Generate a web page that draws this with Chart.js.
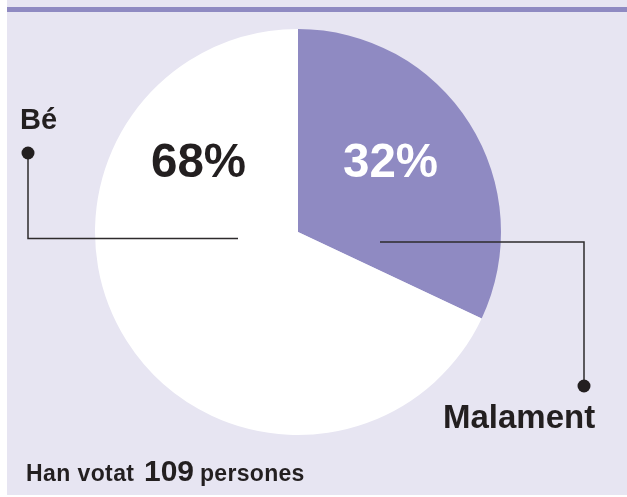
<!DOCTYPE html>
<html>
<head>
<meta charset="utf-8">
<script src="https://cdn.jsdelivr.net/npm/chart.js@4/dist/chart.umd.min.js"></script>
<style>
  html, body { margin: 0; padding: 0; background: #ffffff; }
  body { width: 627px; height: 497px; position: relative; overflow: hidden;
         font-family: "Liberation Sans", Arial, Helvetica, sans-serif; font-weight: bold; color: #231f20; }
  #card { position: absolute; left: 7px; top: 0; width: 620px; height: 495px; background: #e7e5f2; }
  #bar { position: absolute; left: 7px; top: 7px; width: 620px; height: 5px; background: #8f8ac2; }
  #wrap { position: absolute; left: 0; top: 0; width: 627px; height: 497px; }
  .t { position: absolute; white-space: nowrap; line-height: 1; }
</style>
</head>
<body>
<div id="card"></div>
<div id="bar"></div>
<div id="wrap"><canvas id="c" width="627" height="497"></canvas></div>
<div class="t" id="lblGood" style="left:20px; top:105px; font-size:29px;"></div>
<div class="t" id="pctGood" style="left:151px; top:137px; font-size:47.5px; color:#231f20;"></div>
<div class="t" id="pctBad" style="left:343px; top:137px; font-size:47.5px; color:#ffffff;"></div>
<div class="t" id="lblBad" style="left:443px; top:400px; font-size:33px;"></div>
<div class="t" id="f1" style="left:26px; top:462px; font-size:23px; letter-spacing:0.4px;"></div>
<div class="t" id="f2" style="left:144px; top:456px; font-size:30px;"></div>
<div class="t" id="f3" style="left:200px; top:462px; font-size:23px; letter-spacing:0.3px;"></div>
<script>
const categories = ["Malament", "Bé"];
const values = [32, 68];
const sliceColors = ["#8f8ac2", "#ffffff"];
const totalVotes = 109;
const footerWords = ["Han votat", "persones"];

document.getElementById("lblGood").textContent = categories[1];
document.getElementById("lblBad").textContent = categories[0];
document.getElementById("pctGood").textContent = values[1] + "%";
document.getElementById("pctBad").textContent = values[0] + "%";
document.getElementById("f1").textContent = footerWords[0];
document.getElementById("f2").textContent = String(totalVotes);
document.getElementById("f3").textContent = footerWords[1];

const leaders = {
  id: "leaders",
  afterDraw(chart) {
    const ctx = chart.ctx;
    ctx.save();
    ctx.strokeStyle = "#2e2b2c";
    ctx.lineWidth = 1.5;
    ctx.beginPath();
    ctx.moveTo(28, 153); ctx.lineTo(28, 238.5); ctx.lineTo(238, 238.5);
    ctx.moveTo(380, 242); ctx.lineTo(584, 242); ctx.lineTo(584, 386);
    ctx.stroke();
    ctx.fillStyle = "#231f20";
    ctx.beginPath(); ctx.arc(28, 153, 6.5, 0, Math.PI * 2); ctx.fill();
    ctx.beginPath(); ctx.arc(584, 386, 6.5, 0, Math.PI * 2); ctx.fill();
    ctx.restore();
  }
};

new Chart(document.getElementById("c"), {
  type: "pie",
  data: {
    labels: categories,
    datasets: [{
      data: values,
      backgroundColor: sliceColors,
      borderWidth: 0,
      hoverBorderWidth: 0,
      hoverOffset: 0,
      offset: 0
    }]
  },
  options: {
    responsive: false,
    animation: false,
    events: [],
    layout: { padding: { left: 95, top: 29, right: 126, bottom: 62 } },
    plugins: { legend: { display: false }, tooltip: { enabled: false } }
  },
  plugins: [leaders]
});
</script>
</body>
</html>
